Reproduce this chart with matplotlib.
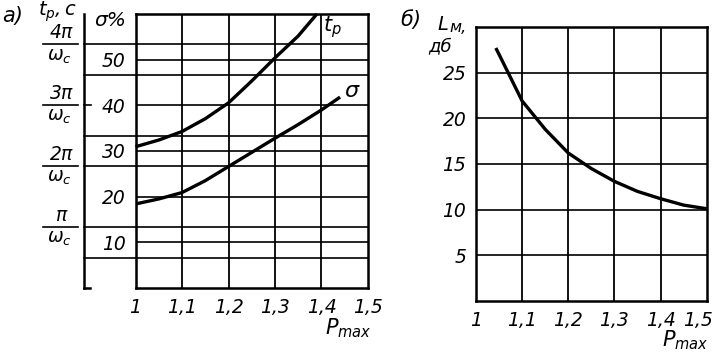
import matplotlib.pyplot as plt
import matplotlib.transforms as mtransforms
import numpy as np

plt.rcParams['font.family'] = ['Liberation Sans Narrow', 'DejaVu Sans']
plt.rcParams['font.style'] = 'italic'
plt.rcParams['mathtext.fontset'] = 'custom'
plt.rcParams['mathtext.it'] = 'Liberation Sans Narrow:italic'
plt.rcParams['mathtext.rm'] = 'Liberation Sans Narrow:italic'
plt.rcParams['mathtext.sf'] = 'Liberation Sans Narrow:italic'

# а) время регулирования t_p (в единицах pi/omega_c) и перерегулирование sigma, %
p_tp = [1.0, 1.05, 1.1, 1.15, 1.2, 1.25, 1.3, 1.35, 1.39]
tp = [2.32, 2.43, 2.57, 2.78, 3.04, 3.40, 3.78, 4.14, 4.5]
p_sigma = [1.0, 1.05, 1.1, 1.15, 1.2, 1.25, 1.3, 1.35, 1.4, 1.44]
sigma = [18.4, 19.5, 20.9, 23.5, 26.6, 29.7, 32.8, 35.8, 39.0, 41.8]

# б) запас по модулю L_м, дб
p_l = [1.043, 1.05, 1.1, 1.15, 1.2, 1.25, 1.3, 1.35, 1.4, 1.45, 1.5]
l_m = [27.7, 27.0, 21.9, 18.8, 16.2, 14.5, 13.1, 12.0, 11.2, 10.5, 10.1]

x_ticks = [1.0, 1.1, 1.2, 1.3, 1.4, 1.5]
x_labels = ['1', '1,1', '1,2', '1,3', '1,4', '1,5']
sigma_ticks = [10, 20, 30, 40, 50]
tp_ticks = [1, 2, 3, 4]
tp_labels = [r'$\pi$', r'$2\pi$', r'$3\pi$', r'$4\pi$']
tp_grid = [0.5, 1, 2, 2.5, 3.5, 4]
l_ticks = [5, 10, 15, 20, 25]

W, H = 714, 353
fig = plt.figure(figsize=(7.14, 3.53), dpi=100)

def fx(px):
    return px / W

def fy(py):
    return 1 - py / H

# ---- а) ----
ax1 = fig.add_axes([fx(135.5), fy(288), 232.5 / W, 274 / H])
ax1.set_xlim(1.0, 1.5)
ax1.set_ylim(0, 60)
ax1.set_xticks(x_ticks)
ax1.set_xticklabels(x_labels)
ax1.set_yticks(sigma_ticks)
ax1.set_yticklabels([str(v) for v in sigma_ticks])
ax1.tick_params(length=0, labelsize=13.5, pad=7)
for s in ax1.spines.values():
    s.set_linewidth(1.8)
for v in x_ticks[1:-1]:
    ax1.axvline(v, color='k', lw=1.3)
for v in sigma_ticks:
    ax1.axhline(v, color='k', lw=1.2)
ax1.plot(p_sigma, sigma, color='k', lw=2.4, solid_capstyle='butt')

axt = ax1.twinx()
axt.set_ylim(0, 4.5)
axt.set_yticks([])
axt.spines['right'].set_visible(False)
axt.plot(p_tp, tp, color='k', lw=2.4, solid_capstyle='butt', clip_on=False)

tr = axt.get_yaxis_transform()
x_sec = (84 - 135.5) / 232.5
for v in tp_grid:
    axt.plot([x_sec, 1], [v, v], color='k', lw=1.2, transform=tr, clip_on=False)
axt.plot([x_sec, (91 - 135.5) / 232.5], [3, 3], color='k', lw=1.2, transform=tr, clip_on=False)
# вспомогательная ось t_p
axt.plot([x_sec, x_sec], [0, 4.5], color='k', lw=1.8, transform=tr, clip_on=False)
axt.plot([x_sec, (90 - 135.5) / 232.5], [0, 0], color='k', lw=1.8, transform=tr, clip_on=False)
# подписи вида kπ/ω_c
xa, xb = (43 - 135.5) / 232.5, (78 - 135.5) / 232.5
for v, lab in zip(tp_ticks, tp_labels):
    axt.plot([xa, xb], [v, v], color='k', lw=1.2, transform=tr, clip_on=False)
    axt.annotate(lab, xy=((xa + xb) / 2, v), xycoords=tr, xytext=(1, 1.5),
                 textcoords='offset points', ha='center', va='bottom', fontsize=13.5)
    axt.annotate(r'$\omega_c$', xy=((xa + xb) / 2, v), xycoords=tr, xytext=(-1, -1.5),
                 textcoords='offset points', ha='center', va='top', fontsize=13.5)

fig.text(fx(2), fy(16), 'а)', fontsize=15, va='center', ha='left')
fig.text(fx(38), fy(12), r'$t_p,c$', fontsize=14, va='center', ha='left')
fig.text(fx(126), fy(21), 'σ%', fontsize=14.5, va='center', ha='right')
fig.text(fx(323), fy(27), r'$t_p$', fontsize=15, va='center', ha='left')
fig.text(fx(344), fy(91), 'σ', fontsize=16, va='center', ha='left')
fig.text(fx(325), fy(328), r'$P_{max}$', fontsize=15, va='center', ha='left')

# ---- б) ----
ax2 = fig.add_axes([fx(476), fy(301), 230.7 / W, 274 / H])
ax2.set_xlim(1.0, 1.5)
ax2.set_ylim(0, 30)
ax2.set_xticks(x_ticks)
ax2.set_xticklabels(x_labels)
ax2.set_yticks(l_ticks)
ax2.set_yticklabels([str(v) for v in l_ticks])
ax2.tick_params(length=0, labelsize=13.5, pad=7)
last = ax2.get_xticklabels()[-1]
last.set_transform(last.get_transform() +
                   mtransforms.ScaledTranslation(-9 / 100, 0, fig.dpi_scale_trans))
for s in ax2.spines.values():
    s.set_linewidth(1.8)
for v in x_ticks[1:-1]:
    ax2.axvline(v, color='k', lw=1.3)
for v in l_ticks:
    ax2.axhline(v, color='k', lw=1.2)
ax2.plot(p_l, l_m, color='k', lw=2.4, solid_capstyle='butt')

fig.text(fx(400), fy(20), 'б)', fontsize=15, va='center', ha='left')
fig.text(fx(437), fy(25), 'L', fontsize=14, va='center', ha='left')
fig.text(fx(449), fy(28), 'м,', fontsize=11.5, va='center', ha='left')
fig.text(fx(428), fy(46), 'дб', fontsize=13, va='center', ha='left')
fig.text(fx(662), fy(340), r'$P_{max}$', fontsize=15, va='center', ha='left')

fig.savefig('out.png', dpi=100)
